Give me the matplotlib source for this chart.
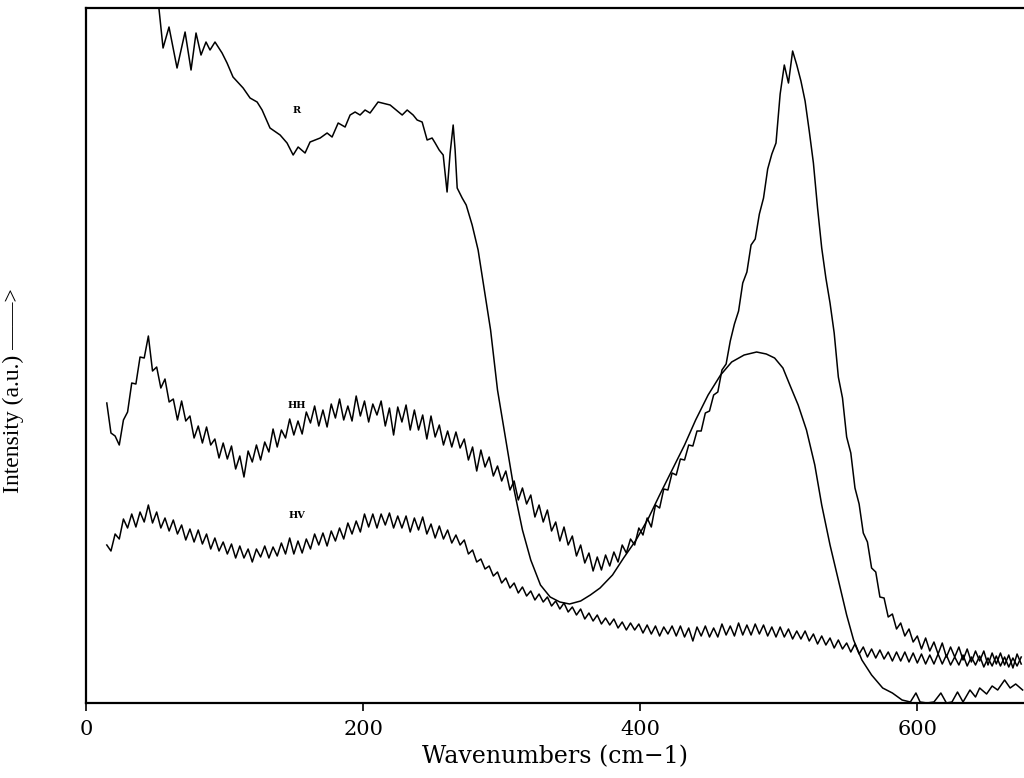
import matplotlib
matplotlib.use("Agg")
import matplotlib.pyplot as plt

# R spectrum (smooth, with interference fringes at low wavenumber)
r_wn = [50.5, 55.6, 59.9, 65.7, 71.5, 75.8, 79.4, 83.0, 86.6, 89.5, 93.1, 98.2,
        101.8, 106.1, 113.4, 118.4, 123.5, 127.1, 132.8, 140.1, 145.1, 149.5,
        153.1, 158.1, 161.7, 169.0, 174.0, 177.6, 182.0, 187.0, 190.6, 194.2,
        197.8, 201.4, 205.0, 210.8, 219.5, 228.2, 231.8, 236.1, 239.0, 242.6,
        246.2, 249.8, 252.0, 254.9, 257.8, 260.6, 262.8, 265.0, 266.4, 267.9,
        271.5, 274.4, 278.7, 283.0, 292, 297, 303, 309, 315, 321, 328, 335, 342,
        349, 357, 364, 371, 380, 388, 397, 406, 414, 423, 432, 440, 449, 458, 466,
        475, 484, 491, 497, 503, 508, 514, 520, 526, 531, 537, 543, 549, 554, 560,
        567, 575, 582, 589, 595, 599, 602, 607, 612, 617, 621, 625, 629, 633, 638,
        642, 645, 650, 654, 658, 663, 667, 671, 676]
r_int = [7.23, 6.55, 6.76, 6.35, 6.71, 6.33, 6.70, 6.48, 6.61, 6.53, 6.61, 6.50,
         6.40, 6.26, 6.15, 6.05, 6.01, 5.93, 5.75, 5.68, 5.60, 5.48, 5.56, 5.50,
         5.61, 5.65, 5.70, 5.66, 5.80, 5.76, 5.88, 5.91, 5.88, 5.93, 5.90, 6.01,
         5.98, 5.88, 5.93, 5.88, 5.83, 5.81, 5.63, 5.65, 5.60, 5.53, 5.48, 5.11,
         5.50, 5.78, 5.53, 5.15, 5.05, 4.98, 4.78, 4.53, 3.73, 3.13, 2.63, 2.13,
         1.73, 1.43, 1.18, 1.06, 1.01, 0.99, 1.02, 1.08, 1.15, 1.28, 1.45, 1.63,
         1.85, 2.08, 2.33, 2.58, 2.83, 3.08, 3.28, 3.41, 3.48, 3.51, 3.49, 3.45,
         3.35, 3.18, 2.98, 2.73, 2.38, 1.98, 1.58, 1.23, 0.88, 0.63, 0.43, 0.28,
         0.15, 0.10, 0.03, 0.01, 0.10, 0.01, 0.00, 0.01, 0.10, 0.00, 0.01, 0.11,
         0.01, 0.13, 0.06, 0.15, 0.09, 0.17, 0.13, 0.23, 0.15, 0.19, 0.13]

# HH and HV spectra share one wavenumber grid
wn = [15, 18, 21, 24, 27, 30, 33, 36, 39, 42, 45, 48, 51, 54, 57, 60, 63, 66, 69, 72,
      75, 78, 81, 84, 87, 90, 93, 96, 99, 102, 105, 108, 111, 114, 117, 120, 123, 126, 129, 132,
      135, 138, 141, 144, 147, 150, 153, 156, 159, 162, 165, 168, 171, 174, 177, 180, 183, 186, 189, 192,
      195, 198, 201, 204, 207, 210, 213, 216, 219, 222, 225, 228, 231, 234, 237, 240, 243, 246, 249, 252,
      255, 258, 261, 264, 267, 270, 273, 276, 279, 282, 285, 288, 291, 294, 297, 300, 303, 306, 309, 312,
      315, 318, 321, 324, 327, 330, 333, 336, 339, 342, 345, 348, 351, 354, 357, 360, 363, 366, 369, 372,
      375, 378, 381, 384, 387, 390, 393, 396, 399, 402, 405, 408, 411, 414, 417, 420, 423, 426, 429, 432,
      435, 438, 441, 444, 447, 450, 453, 456, 459, 462, 465, 468, 471, 474, 477, 480, 483, 486, 489, 492,
      495, 498, 501, 504, 507, 510, 513, 516, 519, 522, 525, 528, 531, 534, 537, 540, 543, 546, 549, 552,
      555, 558, 561, 564, 567, 570, 573, 576, 579, 582, 585, 588, 591, 594, 597, 600, 603, 606, 609, 612,
      615, 618, 621, 624, 627, 630, 633, 636, 639, 642, 645, 648, 651, 654, 657, 660, 663, 666, 669, 672,
      675]
hh = [3.00, 2.70, 2.67, 2.58, 2.83, 2.91, 3.20, 3.19, 3.46, 3.45, 3.67, 3.32, 3.36, 3.15, 3.24, 3.01, 3.04, 2.83, 3.02, 2.82,
      2.87, 2.65, 2.77, 2.60, 2.76, 2.58, 2.64, 2.45, 2.60, 2.44, 2.57, 2.34, 2.47, 2.26, 2.52, 2.41, 2.58, 2.43, 2.61, 2.51,
      2.74, 2.56, 2.73, 2.65, 2.84, 2.68, 2.82, 2.69, 2.91, 2.80, 2.97, 2.77, 2.93, 2.76, 2.99, 2.85, 3.04, 2.83, 2.97, 2.82,
      3.07, 2.87, 3.02, 2.81, 2.99, 2.88, 3.02, 2.77, 2.95, 2.68, 2.96, 2.81, 2.98, 2.73, 2.93, 2.73, 2.88, 2.64, 2.87, 2.66,
      2.78, 2.58, 2.72, 2.56, 2.71, 2.55, 2.64, 2.43, 2.56, 2.32, 2.53, 2.36, 2.46, 2.27, 2.37, 2.22, 2.32, 2.13, 2.22, 2.03,
      2.15, 1.99, 2.08, 1.86, 1.98, 1.81, 1.93, 1.72, 1.81, 1.62, 1.76, 1.58, 1.67, 1.47, 1.58, 1.40, 1.50, 1.32, 1.46, 1.33,
      1.48, 1.37, 1.51, 1.41, 1.58, 1.50, 1.64, 1.58, 1.75, 1.68, 1.85, 1.76, 1.98, 1.95, 2.14, 2.13, 2.30, 2.28, 2.44, 2.43,
      2.58, 2.57, 2.72, 2.72, 2.90, 2.92, 3.08, 3.11, 3.33, 3.39, 3.62, 3.79, 3.92, 4.20, 4.31, 4.58, 4.64, 4.89, 5.05, 5.34,
      5.49, 5.60, 6.09, 6.38, 6.20, 6.52, 6.38, 6.22, 6.02, 5.72, 5.40, 4.95, 4.55, 4.25, 4.00, 3.70, 3.26, 3.05, 2.66, 2.50,
      2.15, 1.99, 1.70, 1.61, 1.35, 1.31, 1.06, 1.05, 0.86, 0.89, 0.74, 0.80, 0.67, 0.74, 0.61, 0.67, 0.54, 0.65, 0.52, 0.61,
      0.49, 0.60, 0.46, 0.56, 0.46, 0.56, 0.43, 0.54, 0.41, 0.52, 0.42, 0.52, 0.38, 0.50, 0.39, 0.50, 0.38, 0.48, 0.35, 0.49,
      0.39]
hv = [1.58, 1.52, 1.69, 1.64, 1.84, 1.75, 1.89, 1.76, 1.91, 1.81, 1.98, 1.80, 1.91, 1.75, 1.85, 1.72, 1.83, 1.69, 1.78, 1.63,
      1.74, 1.61, 1.73, 1.59, 1.69, 1.54, 1.65, 1.52, 1.61, 1.49, 1.59, 1.45, 1.57, 1.45, 1.54, 1.41, 1.54, 1.46, 1.57, 1.45,
      1.56, 1.47, 1.60, 1.49, 1.65, 1.49, 1.62, 1.50, 1.64, 1.54, 1.69, 1.58, 1.70, 1.57, 1.72, 1.62, 1.75, 1.64, 1.80, 1.69,
      1.82, 1.71, 1.89, 1.76, 1.89, 1.75, 1.89, 1.78, 1.90, 1.75, 1.87, 1.75, 1.87, 1.71, 1.85, 1.73, 1.86, 1.69, 1.79, 1.65,
      1.77, 1.64, 1.73, 1.60, 1.68, 1.58, 1.63, 1.49, 1.53, 1.41, 1.44, 1.34, 1.37, 1.27, 1.31, 1.20, 1.25, 1.15, 1.20, 1.10,
      1.16, 1.07, 1.12, 1.03, 1.09, 1.01, 1.06, 0.97, 1.02, 0.94, 1.00, 0.91, 0.96, 0.88, 0.94, 0.84, 0.90, 0.82, 0.88, 0.79,
      0.85, 0.78, 0.84, 0.75, 0.81, 0.73, 0.80, 0.73, 0.79, 0.70, 0.78, 0.69, 0.77, 0.67, 0.76, 0.69, 0.77, 0.67, 0.77, 0.66,
      0.75, 0.62, 0.76, 0.67, 0.77, 0.66, 0.75, 0.66, 0.79, 0.68, 0.77, 0.67, 0.80, 0.68, 0.78, 0.68, 0.79, 0.69, 0.78, 0.67,
      0.76, 0.66, 0.76, 0.66, 0.74, 0.64, 0.72, 0.64, 0.72, 0.62, 0.69, 0.59, 0.67, 0.58, 0.65, 0.55, 0.63, 0.54, 0.60, 0.51,
      0.59, 0.49, 0.56, 0.46, 0.54, 0.45, 0.53, 0.44, 0.51, 0.42, 0.51, 0.42, 0.51, 0.41, 0.50, 0.40, 0.49, 0.39, 0.48, 0.39,
      0.49, 0.39, 0.48, 0.38, 0.46, 0.38, 0.48, 0.37, 0.46, 0.38, 0.47, 0.36, 0.45, 0.37, 0.47, 0.37, 0.46, 0.36, 0.45, 0.37,
      0.46]

tick_vals = [0, 200, 400, 600]
labels = {"R": (152, 5.93), "HH": (152, 2.98), "HV": (152, 1.88)}

fig = plt.figure(figsize=(10.24, 7.78), dpi=100)
ax = fig.add_axes([0.084, 0.0964, 0.916, 0.8933])

for xs, ys in [(r_wn, r_int), (wn, hh), (wn, hv)]:
    ax.plot(xs, ys, color="k", linewidth=1.1)

for name, (lx, ly) in labels.items():
    ax.text(lx, ly, name, fontsize=7, fontweight="bold", family="DejaVu Serif",
            ha="center", va="center")

ax.set_xlim(0, 677)
ax.set_ylim(0, 6.95)
ax.spines["right"].set_visible(False)
for s in ["left", "top", "bottom"]:
    ax.spines[s].set_linewidth(1.6)

ax.set_xticks(tick_vals)
ax.set_xticklabels([str(t) for t in tick_vals], family="DejaVu Serif", fontsize=15)
ax.tick_params(axis="x", direction="out", length=6, width=1.2, pad=6)
ax.set_yticks([])

ax.set_xlabel("Wavenumbers (cm\u22121)", family="DejaVu Serif", fontsize=17, labelpad=5)
ax.set_ylabel("Intensity (a.u.) \u2014\u2014>", family="Liberation Serif", fontsize=17)
ax.yaxis.set_label_coords(-0.066, 0.45)

fig.savefig("out.png", dpi=100)
